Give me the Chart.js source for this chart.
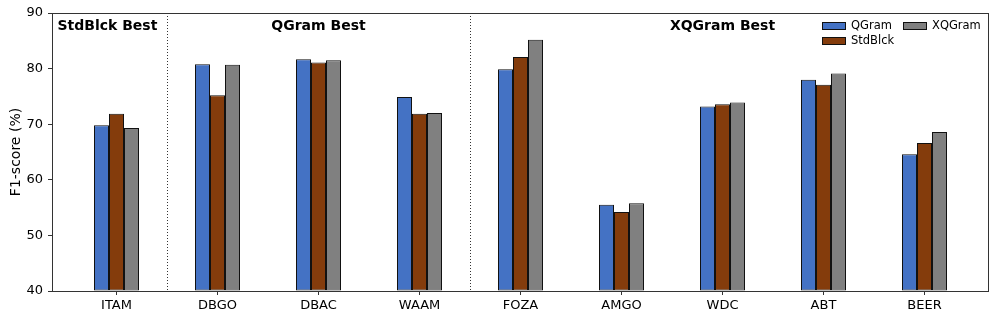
<!DOCTYPE html>
<html>
<head>
<meta charset="utf-8">
<script src="https://cdn.jsdelivr.net/npm/chart.js@4.4.1/dist/chart.umd.min.js"></script>
<style>
  html, body { margin: 0; padding: 0; background: #fff; }
  #wrap { width: 997px; height: 322px; }
</style>
</head>
<body>
<div id="wrap"><canvas id="chart"></canvas></div>
<script>
// data
const categories = ['ITAM', 'DBGO', 'DBAC', 'WAAM', 'FOZA', 'AMGO', 'WDC', 'ABT', 'BEER'];
const qgram   = [69.8, 80.8, 81.7, 74.9, 79.9, 55.5, 73.2, 78.0, 64.6];
const stdblck = [71.9, 75.2, 81.1, 71.9, 82.1, 54.2, 73.6, 77.1, 66.6];
const xqgram  = [69.3, 80.7, 81.5, 72.0, 85.2, 55.8, 73.9, 79.1, 68.6];
const yTicks = [40, 50, 60, 70, 80, 90];

// group dividers (between categories) and group captions
const dividers = [0.5, 3.5];
const groupLabels = [
  { text: 'StdBlck Best', x: -0.09 },
  { text: 'QGram Best', x: 2 },
  { text: 'XQGram Best', x: 6 }
];

const FONT = "'DejaVu Sans', sans-serif";
const COLORS = { QGram: '#4472C4', StdBlck: '#843C0C', XQGram: '#808080' };

const toPoints = arr => arr.map((v, i) => ({ x: i, y: v }));

function barSet(label, values) {
  return {
    label,
    data: toPoints(values),
    backgroundColor: COLORS[label],
    borderColor: '#111',
    borderWidth: 1,
    borderSkipped: false,
    base: 40,
    categoryPercentage: 45 / 101,
    barPercentage: 1.0
  };
}

// frame, dotted dividers, group titles and a 2-column legend
const decor = {
  id: 'decor',
  afterDatasetsDraw(chart) {
    const { ctx, chartArea: a, scales: { x } } = chart;
    ctx.save();

    // dotted dividers
    ctx.strokeStyle = '#333';
    ctx.lineWidth = 1;
    ctx.setLineDash([1, 2]);
    dividers.forEach(d => {
      const px = Math.round(x.getPixelForValue(d)) + 0.5;
      ctx.beginPath();
      ctx.moveTo(px, a.top);
      ctx.lineTo(px, a.bottom);
      ctx.stroke();
    });
    ctx.setLineDash([]);

    // frame
    ctx.strokeStyle = '#333';
    ctx.strokeRect(Math.round(a.left) + 0.5, Math.round(a.top) + 0.5,
      Math.round(a.right - a.left) - 1, Math.round(a.bottom - a.top));

    // group captions
    ctx.fillStyle = '#000';
    ctx.font = `bold 14px ${FONT}`;
    ctx.textAlign = 'center';
    ctx.textBaseline = 'alphabetic';
    groupLabels.forEach(g => ctx.fillText(g.text, x.getPixelForValue(g.x), a.top + 17));

    // legend: column-major, 2 columns
    const entries = [
      { label: 'QGram', col: 0, row: 0 },
      { label: 'StdBlck', col: 0, row: 1 },
      { label: 'XQGram', col: 1, row: 0 }
    ];
    const colX = [822, 903];
    const rowY = [26, 41];
    ctx.font = `11.5px ${FONT}`;
    ctx.textAlign = 'left';
    ctx.textBaseline = 'middle';
    entries.forEach(e => {
      const bx = colX[e.col], by = rowY[e.row];
      ctx.fillStyle = COLORS[e.label];
      ctx.fillRect(bx, by - 4, 24, 8);
      ctx.strokeStyle = '#111';
      ctx.strokeRect(bx + 0.5, by - 3.5, 23, 7);
      ctx.fillStyle = '#000';
      ctx.fillText(e.label, bx + 29, by);
    });

    ctx.restore();
  }
};

new Chart(document.getElementById('chart'), {
  type: 'bar',
  data: {
    datasets: [
      barSet('QGram', qgram),
      barSet('StdBlck', stdblck),
      barSet('XQGram', xqgram)
    ]
  },
  options: {
    responsive: true,
    maintainAspectRatio: false,
    animation: false,
    layout: { padding: { top: 13, right: 8, left: 0, bottom: 0 } },
    plugins: {
      legend: { display: false },
      tooltip: { enabled: false }
    },
    scales: {
      x: {
        type: 'linear',
        // 937px wide plot -> exactly 101px per category
        min: -(937 / 101 - 8) / 2,
        max: 8 + (937 / 101 - 8) / 2,
        offset: false,
        afterBuildTicks: axis => { axis.ticks = categories.map((_, i) => ({ value: i })); },
        afterFit: axis => { axis.height = 31; },
        grid: { display: true, offset: false, drawOnChartArea: false, drawTicks: true, tickLength: 4, tickColor: '#333' },
        border: { display: false },
        ticks: {
          autoSkip: false,
          maxRotation: 0,
          padding: 3,
          color: '#000',
          font: { family: FONT, size: 13 },
          callback: v => categories[v]
        }
      },
      y: {
        min: 40,
        max: 90,
        afterBuildTicks: axis => { axis.ticks = yTicks.map(v => ({ value: v })); },
        afterFit: axis => { axis.width = 52; },
        grid: { display: true, drawOnChartArea: false, drawTicks: true, tickLength: 4, tickColor: '#333' },
        border: { display: false },
        ticks: {
          padding: 5,
          color: '#000',
          font: { family: FONT, size: 13 }
        },
        title: {
          display: true,
          text: 'F1-score (%)',
          color: '#000',
          font: { family: FONT, size: 14 },
          padding: { top: 8, bottom: 0 }
        }
      }
    }
  },
  plugins: [decor]
});
</script>
</body>
</html>
